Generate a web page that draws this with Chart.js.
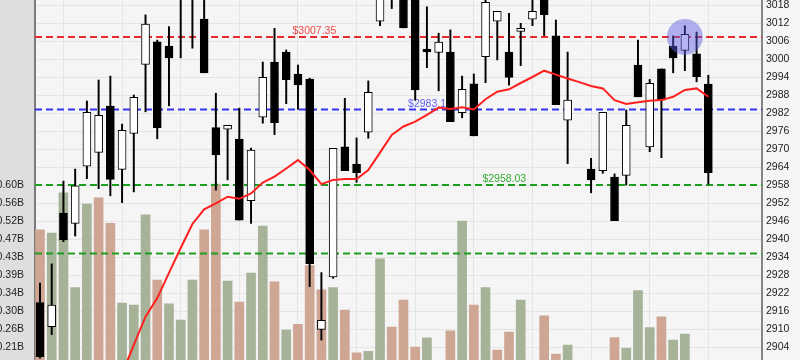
<!DOCTYPE html>
<html>
<head>
<meta charset="utf-8">
<script src="https://cdn.jsdelivr.net/npm/chart.js@4.4.1/dist/chart.umd.min.js"></script>
<style>
  html, body { margin: 0; padding: 0; background: #f5f5f5; }
  canvas { display: block; }
</style>
</head>
<body>
<canvas id="priceChart" width="800" height="360"></canvas>
<script>
// OHLC per session (index 46 has no data)
const opens = [2918.8, 2910.8, 2948.6, 2945.2, 2964.3, 2968.9, 2984.3, 2963.2, 2975.2, 2998.2,
  3005.7, 3004.3, 3022.0, 3026.0, 3013.3, 2977.1, 2976.6, 2973.3, 2952.8, 2980.6,
  2999.0, 3002.3, 2995.0, 2993.3, 2909.9, 2927.4, 2970.7, 2965.0, 2975.6, 3012.6,
  3030.0, 3028.0, 3024.0, 3003.3, 3002.2, 3002.3, 2982.1, 2991.7, 3000.8, 3012.6,
  3002.3, 3009.2, 3013.3, 3022.0, 3007.7, 2979.6, null, 2963.3, 2962.8, 2960.6,
  2961.2, 2998.0, 2970.7, 2996.7, 3004.3, 3002.9, 3001.7, 2991.6];
const highs = [2925.3, 2931.7, 2959.3, 2963.3, 2986.0, 2993.0, 2994.3, 2978.3, 2988.0, 3014.7,
  3006.3, 3010.8, 3032.0, 3034.0, 3024.0, 2988.6, 2977.9, 2983.6, 2970.3, 2999.0,
  3010.2, 3003.0, 2998.0, 2993.6, 2928.8, 2970.2, 2986.9, 2973.7, 2992.7, 3028.0,
  3034.0, 3032.0, 3028.0, 3017.4, 3008.6, 3009.7, 2994.3, 2995.0, 3020.5, 3015.9,
  3015.2, 3011.9, 3021.0, 3025.0, 3013.0, 3002.3, null, 2966.9, 2982.2, 2961.7,
  2983.0, 3006.3, 2993.2, 2996.7, 3007.7, 3011.1, 3009.0, 2994.6];
const lows = [2900.3, 2908.1, 2939.1, 2941.0, 2960.1, 2956.8, 2954.4, 2952.1, 2955.7, 2982.4,
  2973.4, 2984.4, 3000.4, 3003.6, 2995.4, 2956.3, 2959.7, 2946.3, 2945.2, 2978.6,
  2974.8, 2985.1, 2983.2, 2924.1, 2906.3, 2926.9, 2962.8, 2958.9, 2973.6, 3011.1,
  3016.8, 3010.4, 2986.3, 2997.1, 2989.4, 2979.1, 2980.4, 2974.4, 2992.1, 2999.7,
  2991.3, 2997.8, 3011.1, 3007.8, 2984.8, 2965.1, null, 2955.4, 2961.9, 2946.1,
  2958.0, 2987.4, 2969.1, 2967.1, 2995.4, 2996.1, 2992.4, 2958.3];
const closes = [2900.8, 2918.0, 2939.7, 2957.7, 2982.2, 2981.2, 2959.9, 2976.2, 2987.2, 3011.6,
  2977.1, 3000.4, 3028.0, 3031.0, 2995.4, 2968.0, 2977.9, 2946.3, 2969.6, 2993.9,
  2978.8, 2993.1, 2991.4, 2931.8, 2912.9, 2970.2, 2962.8, 2962.1, 2988.9, 3026.0,
  3022.0, 3010.4, 2989.7, 3002.4, 3005.6, 2979.1, 2989.9, 2974.4, 3018.9, 3015.9,
  2993.9, 3010.2, 3015.9, 3014.8, 2984.8, 2986.3, null, 2959.7, 2982.2, 2946.1,
  2977.9, 2987.4, 2991.9, 2986.3, 3000.4, 3008.2, 2994.1, 2962.1];
// volume in billions
const volumes = [0.495, 0.487, 0.584, 0.356, 0.557, 0.572, 0.511, 0.319, 0.314, 0.531,
  0.374, 0.317, 0.278, 0.374, 0.495, 0.605, 0.372, 0.321, 0.391, 0.504,
  0.370, 0.254, 0.268, 0.409, 0.351, 0.356, 0.302, 0.199, 0.203, 0.425,
  0.261, 0.326, 0.213, 0.235, 0.160, 0.252, 0.516, 0.314, 0.356, 0.206,
  0.249, 0.326, 0.160, 0.288, 0.196, 0.218, null, 0.160, 0.170, 0.236,
  0.210, 0.349, 0.260, 0.286, 0.230, 0.244, 0.165, 0.170];
// moving average line
const maValues = [null, null, null, null, null, null, null, 2895.1, 2904.7, 2914.1,
  2920.3, 2928.7, 2937.0, 2945.0, 2949.9, 2951.9, 2954.1, 2953.4, 2955.2, 2958.8,
  2960.8, 2963.5, 2966.3, 2963.0, 2958.3, 2959.7, 2960.0, 2960.0, 2963.0, 2968.8,
  2974.7, 2977.5, 2979.1, 2981.4, 2983.8, 2983.3, 2983.9, 2983.2, 2986.6, 2989.1,
  2989.9, 2992.0, 2994.0, 2996.1, 2994.8, 2993.5, 2992.3, 2991.0, 2990.2, 2986.3,
  2985.0, 2985.6, 2986.1, 2986.3, 2987.4, 2989.7, 2990.2, 2987.4];
const levels = [3007.35, 2983.14, 2958.03, 2935.2];
const markedSession = [55];
const priceTicks = [3018, 3012, 3006, 3000, 2994, 2988, 2982, 2976, 2970, 2964,
  2958, 2952, 2946, 2940, 2934, 2928, 2922, 2916, 2910, 2904];
const volTicks = [0.603, 0.560, 0.516, 0.473, 0.430, 0.387, 0.343, 0.300, 0.257, 0.213, 0.170];

// visible window
const xMin = -0.4264, xMax = 61.578;
const priceMin = 2899.667, priceMax = 3019.667;
const volMin = 0.1819, volMax = 1.048;

const sessions = opens.map((o, i) => i).filter(i => opens[i] !== null);
const isUp = i => closes[i] >= opens[i];

// volume colour follows close vs previous close
const volColor = i => {
  let prev = i - 1;
  while (prev >= 0 && closes[prev] === null) prev--;
  const ref = prev >= 0 ? closes[prev] : opens[i];
  return closes[i] >= ref ? '#a6b398' : '#cfa594';
};

// no room reserved for overflowing tick labels
const noPad = s => {
  s.paddingTop = 0; s.paddingBottom = 0;
  s.paddingLeft = 0; s.paddingRight = 0;
};

const backdrop = {
  id: 'backdrop',
  beforeDraw(chart) {
    const { ctx, chartArea } = chart;
    ctx.save();
    ctx.fillStyle = '#f5f5f5';
    ctx.fillRect(0, 0, chart.width, chart.height);
    ctx.fillStyle = '#dedede';
    ctx.fillRect(0, 0, chartArea.left, chart.height);
    ctx.restore();
  }
};

// dashed price levels, drawn just above the volume bars
const levelLines = {
  id: 'levelLines',
  afterDatasetDraw(chart, args, opts) {
    if (chart.data.datasets[args.index].label !== 'Volume') return;
    const { ctx, chartArea, scales } = chart;
    ctx.save();
    ctx.beginPath();
    ctx.rect(chartArea.left, chartArea.top, chartArea.right - chartArea.left, chartArea.bottom - chartArea.top);
    ctx.clip();
    levels.forEach((lvl, k) => {
      const st = opts.styles[k];
      const y = scales.y.getPixelForValue(lvl);
      ctx.setLineDash([7, 4]);
      ctx.lineWidth = 2;
      ctx.strokeStyle = st.line;
      ctx.beginPath();
      ctx.moveTo(chartArea.left, y);
      ctx.lineTo(chartArea.right, y);
      ctx.stroke();
      if (st.labelAt !== undefined) {
        ctx.setLineDash([]);
        ctx.font = '10.5px "Liberation Sans"';
        ctx.fillStyle = st.text;
        ctx.textAlign = 'center';
        ctx.textBaseline = 'alphabetic';
        ctx.fillText('$' + lvl.toFixed(2), scales.x.getPixelForValue(st.labelAt), y - 3);
      }
    });
    ctx.restore();
  }
};

const tickFont = { family: '"Liberation Sans"', size: 10.5 };

new Chart(document.getElementById('priceChart'), {
  data: {
    datasets: [
      {
        type: 'scatter',
        label: 'Marker',
        order: 1,
        data: markedSession.map(i => ({ x: i, y: levels[0] })),
        pointRadius: 18,
        pointBackgroundColor: 'rgba(90, 90, 230, 0.45)',
        pointBorderWidth: 0
      },
      {
        type: 'line',
        label: 'MA',
        order: 2,
        data: maValues.map((v, i) => ({ x: i, y: v })),
        borderColor: '#ff1f1f',
        borderWidth: 2,
        pointRadius: 0,
        tension: 0
      },
      {
        type: 'bar',
        label: 'Body',
        order: 3,
        grouped: false,
        data: sessions.map(i => ({ x: i, y: [opens[i], closes[i]] })),
        backgroundColor: sessions.map(i => isUp(i) ? '#ffffff' : '#000000'),
        borderColor: '#000000',
        borderWidth: 1,
        borderSkipped: false,
        barThickness: 8
      },
      {
        type: 'bar',
        label: 'Wick',
        order: 4,
        grouped: false,
        data: sessions.map(i => ({ x: i, y: [lows[i], highs[i]] })),
        backgroundColor: '#000000',
        barThickness: 1.3
      },
      {
        type: 'bar',
        label: 'Volume',
        order: 5,
        grouped: false,
        yAxisID: 'yv',
        data: sessions.map(i => ({ x: i, y: volumes[i] })),
        backgroundColor: sessions.map(volColor),
        barThickness: 9
      }
    ]
  },
  options: {
    responsive: false,
    animation: false,
    events: [],
    layout: { padding: 0, autoPadding: false },
    plugins: {
      legend: { display: false },
      tooltip: { enabled: false },
      levelLines: {
        styles: [
          { line: '#e82c2c', text: '#f04848', labelAt: 23.4 },
          { line: '#3434f2', text: '#6262f0', labelAt: 33.26 },
          { line: '#1f9e1f', text: '#33aa33', labelAt: 39.6 },
          { line: '#1f9e1f' }
        ]
      }
    },
    scales: {
      x: {
        type: 'linear',
        offset: false,
        min: xMin,
        max: xMax,
        afterBuildTicks: s => {
          const t = [];
          for (let v = 2; v <= s.max; v += 5) t.push({ value: v });
          s.ticks = t;
        },
        afterFit: noPad,
        grid: { color: '#e4e4e4', drawTicks: false, offset: false },
        border: { display: false },
        ticks: { display: false }
      },
      y: {
        type: 'linear',
        position: 'right',
        min: priceMin,
        max: priceMax,
        afterBuildTicks: s => { s.ticks = priceTicks.map(v => ({ value: v })); },
        afterFit: s => { s.width = 38; noPad(s); },
        grid: { color: '#e4e4e4', drawTicks: false },
        border: { color: '#858585', width: 2 },
        ticks: { padding: 4, color: '#222', font: tickFont, callback: v => String(v) }
      },
      yv: {
        type: 'linear',
        position: 'left',
        min: volMin,
        max: volMax,
        afterBuildTicks: s => { s.ticks = volTicks.map(v => ({ value: v })); },
        afterFit: s => { s.width = 35; noPad(s); },
        grid: { display: false },
        border: { color: '#7a7a7a', width: 2 },
        ticks: { padding: 3, color: '#222', font: tickFont, callback: v => v.toFixed(2) + 'B' }
      }
    }
  },
  plugins: [backdrop, levelLines]
});
</script>
</body>
</html>
